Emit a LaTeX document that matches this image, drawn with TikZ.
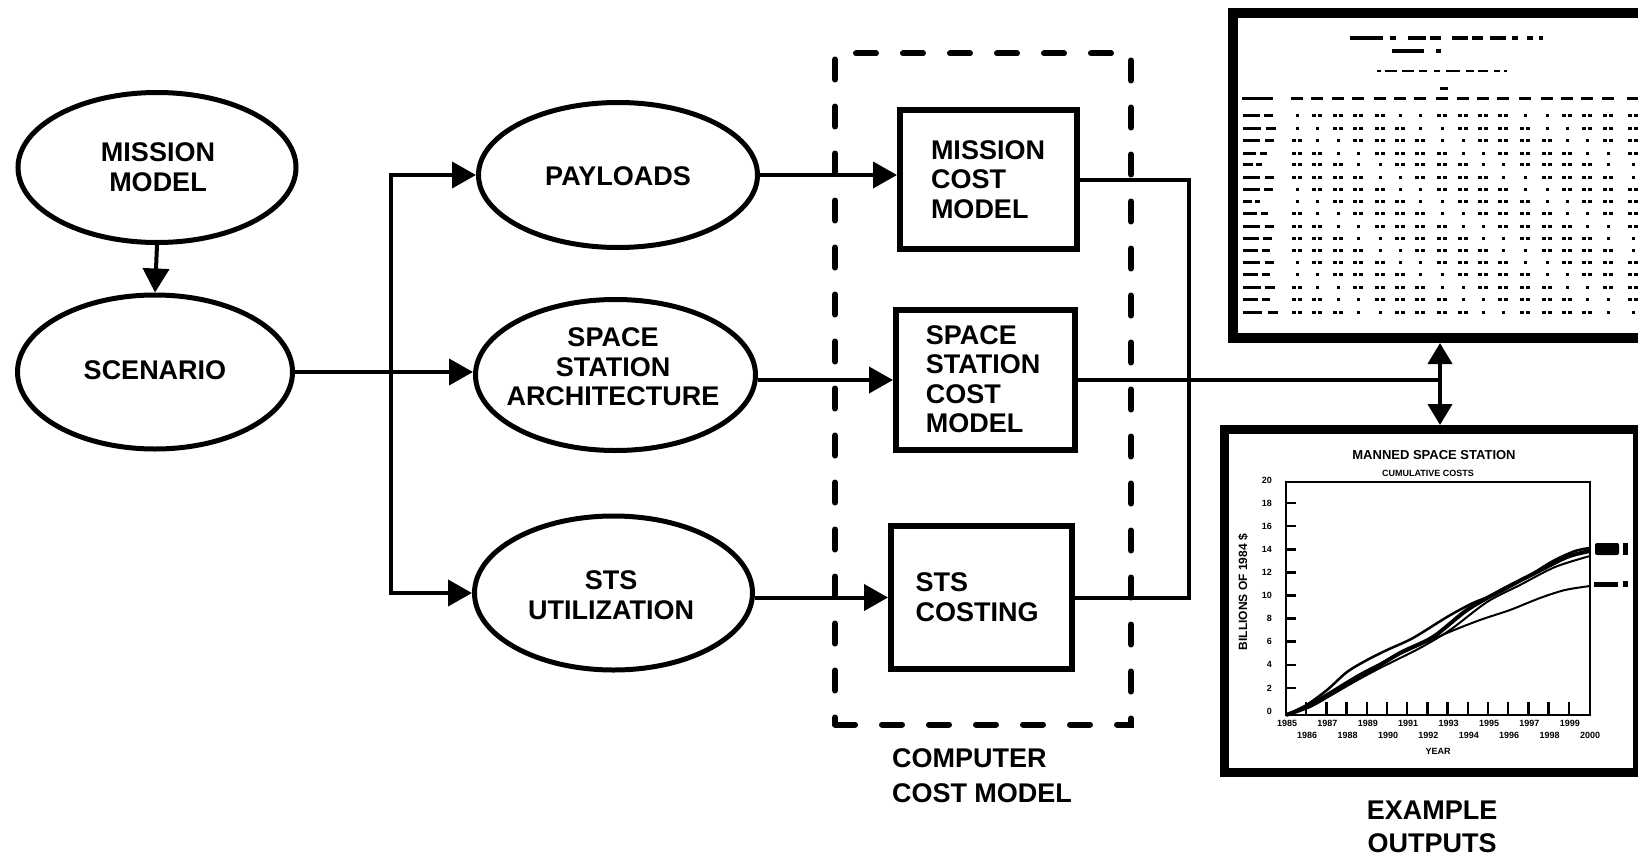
\documentclass[tikz,border=0pt]{standalone}
\usepackage{fontspec}
\setmainfont{Liberation Sans}
\usetikzlibrary{arrows.meta,shapes.geometric,calc}
\begin{document}
\begin{tikzpicture}[x=1pt,y=-1pt,
  ell/.style={draw,ellipse,line width=5pt,inner sep=0pt},
  box/.style={draw,rectangle,line width=6pt,inner sep=0pt},
  lbl/.style={font=\fontsize{27}{29.5}\selectfont\bfseries,align=center,inner sep=0pt},
  lbll/.style={lbl,align=left},
  conn/.style={line width=4pt},
  arr/.style={conn,-{Triangle[length=24pt,width=26pt]}},
  darr/.style={conn,{Triangle[length=21pt,width=24pt]}-{Triangle[length=21pt,width=24pt]}},
  dashbox/.style={draw,rectangle,line width=6pt,inner sep=0pt,dash pattern=on 20pt off 27pt,line cap=round},
  frame/.style={draw,rectangle,line width=10pt,inner sep=0pt},
  tink/.style={line width=3pt},
  chartlbl/.style={font=\fontsize{9}{9}\selectfont\bfseries,inner sep=0pt}
]
\useasboundingbox (0,0) rectangle (1638,859);
\clip (0,0) rectangle (1638,859);
\fill[white] (0,0) rectangle (1638,859);

% ---------- ellipses ----------
\node[ell,minimum width=278pt,minimum height=150pt] (mm) at (157,167.5) {};
\node[ell,minimum width=275pt,minimum height=154pt] (scen) at (155,372) {};
\node[ell,minimum width=279pt,minimum height=145pt] (pay) at (618,175) {};
\node[ell,minimum width=280pt,minimum height=151pt] (ssa) at (615.5,375) {};
\node[ell,minimum width=278pt,minimum height=154pt] (sts) at (613.5,593) {};

\node[lbl] (mmt) at (158,167) {MISSION\\MODEL};
\node[lbl] (scent) at (155,370) {SCENARIO};
\node[lbl] (payt) at (618,176) {PAYLOADS};
\node[lbl] (ssat) at (613,367) {SPACE\\STATION\\ARCHITECTURE};
\node[lbl] (stst) at (611,595) {STS\\UTILIZATION};

% ---------- computer cost model ----------
\node[dashbox,minimum width=296pt,minimum height=671pt] (ccm) at (983,389) {};
\node[box,minimum width=177pt,minimum height=139pt] (mcm) at (988.5,179.5) {};
\node[box,minimum width=179pt,minimum height=140pt] (ssc) at (985.5,380) {};
\node[box,minimum width=181pt,minimum height=143pt] (stsc) at (981.5,597.5) {};
\node[lbll] (mcmt) at (988,179.5) {MISSION\\COST\\MODEL};
\node[lbll] (ssct) at (983,379) {SPACE\\STATION\\COST\\MODEL};
\node[lbll] (stsct) at (977,597) {STS\\COSTING};
\node[lbll,font=\fontsize{27}{35}\selectfont\bfseries] (ccml) at (982,775.5) {COMPUTER\\COST MODEL};

% ---------- output frames ----------
\node[frame,minimum width=447pt,minimum height=325pt] (tbl) at (1456.5,175.5) {};
\node[frame,line width=9pt,minimum width=412.5pt,minimum height=343pt] (cht) at (1430.75,601) {};
\node[lbl,font=\fontsize{27}{33}\selectfont\bfseries] (exo) at (1432,826.5) {EXAMPLE\\OUTPUTS};

% ---------- connectors ----------
\coordinate (J) at (391,372);
\coordinate (bus) at (1189,380);
\coordinate (dj) at (1440,380);
\draw[arr] (mm.south) -- (scen.north);
\draw[arr] (scen.east) -- (scen.east -| ssa.west);
\draw[arr] (J) |- (pay.west);
\draw[arr] (J) |- (sts.west);
\draw[arr] (pay.east) -- (pay.east -| mcm.west);
\draw[arr] (ssc.west -| ssa.east) -- (ssc.west);
\draw[arr] (stsc.west -| sts.east) -- (stsc.west);
\draw[conn] (mcm.east) -| (bus) |- (stsc.east);
\draw[conn] (ssc.east) -- (dj);
\draw[darr] (dj |- tbl.south) -- (dj |- cht.north);

% ---------- table contents (illegible print) ----------
\foreach \a/\b in {1350/1383,1390/1396,1408/1426,1430/1441,1452/1468,1472/1483,1490/1506,1512/1518,1527/1533,1539/1543}
  \draw[line width=3.5pt] (\a,38) -- (\b,38);
\foreach \a/\b in {1392/1424,1436/1441}
  \draw[line width=3.5pt] (\a,51) -- (\b,51);
\foreach \a/\b in {1377/1381,1385/1397,1402/1414,1419/1427,1434/1440,1446/1460,1466/1474,1478/1488,1494/1500,1504/1507}
  \draw[line width=2pt] (\a,71) -- (\b,71);
\draw[line width=3pt] (1440,88) -- (1448,88);
\draw[tink] (1242,98) -- (1273,98);
\foreach \r/\w in {115/30,128/33,140/31,153/24,164/19,177/31,189/30,201/17,213/25,226/31,238/29,250/27,262/31,274/27,287/32,299/27,312/35}{
  \draw[tink] (1243,\r) -- (1243+\w*0.55,\r) (1243+\w*0.7,\r) -- (1243+\w,\r);
}
\foreach \c [count=\ci] in {1297,1317,1338,1358,1380,1400,1420,1442,1463,1483,1503,1525,1547,1567,1587,1608,1633}{
  \draw[tink] (\c-6,98) -- (\c+6,98);
  \foreach \r [count=\ri] in {115,128,140,153,164,177,189,201,213,226,238,250,262,274,287,299,312}{
    \pgfmathtruncatemacro\k{mod(\ri*7+\ci*5,6)}
    \ifnum\k<2
      \fill (\c-1.5,\r-1.5) rectangle ++(3,3);
    \else
      \fill (\c-5,\r-1.5) rectangle ++(3.5,3);
      \fill (\c+1,\r-1.5) rectangle ++(3.5,3);
    \fi
  }
}

% ---------- chart contents ----------
\node[font=\fontsize{13}{13}\selectfont\bfseries,inner sep=0pt] (ctitle) at (1434,455) {MANNED SPACE STATION};
\node[font=\fontsize{9}{9}\selectfont\bfseries,inner sep=0pt] (csub) at (1428,473) {CUMULATIVE COSTS};
\draw[line width=2.7pt] (1286,482) rectangle (1590,715);
\foreach \k in {1,...,9} \draw[line width=2.5pt] (1286,711-23.1*\k) -- ++(10,0);
\foreach \k in {1,...,14} \draw[line width=2.5pt] (1286+20.2*\k,715) -- ++(0,-13);
\foreach \v [count=\i from 0] in {0,2,4,6,8,10,12,14,16,18,20}
  \node[chartlbl,anchor=east] at (1272,711-23.1*\i) {\v};
\foreach \yr [count=\i from 0] in {1985,...,2000}{
  \pgfmathsetmacro\xx{1287+20.2*\i}
  \pgfmathsetmacro\yy{723+12*mod(\i,2)}
  \node[chartlbl] at (\xx,\yy) {\yr};
}
\node[chartlbl] (cyear) at (1438,751) {YEAR};
\node[font=\fontsize{12}{12}\selectfont\bfseries,inner sep=0pt,rotate=90] (cylab) at (1243,592) {BILLIONS OF 1984 \$};
\draw[line width=2.5pt] plot[smooth] coordinates {(1286,715) (1305,706) (1327,690) (1347,672) (1367,660) (1387,650) (1413,638) (1447,617) (1473,603) (1500,592) (1527,577) (1553,561) (1575,551) (1590,548)};
\draw[line width=4pt] plot[smooth] coordinates {(1286,715) (1310,706) (1333,693) (1367,673) (1400,653) (1433,637) (1467,610) (1500,591) (1533,574) (1567,557) (1590,551)};
\draw[line width=2pt] plot[smooth] coordinates {(1286,715) (1320,700) (1350,684) (1380,668) (1420,648) (1450,630) (1487,602) (1520,585) (1555,567) (1590,556)};
\draw[line width=2pt] plot[smooth] coordinates {(1286,715) (1320,698) (1360,674) (1400,654) (1447,633) (1480,620) (1510,610) (1540,598) (1565,590) (1590,586)};
\fill[rounded corners=2pt] (1595,543) rectangle (1619,555);
\fill (1623,543) rectangle (1628,555);
\fill (1594,582) rectangle (1618,587);
\fill (1623,581) rectangle (1628,587);
\end{tikzpicture}
\end{document}
